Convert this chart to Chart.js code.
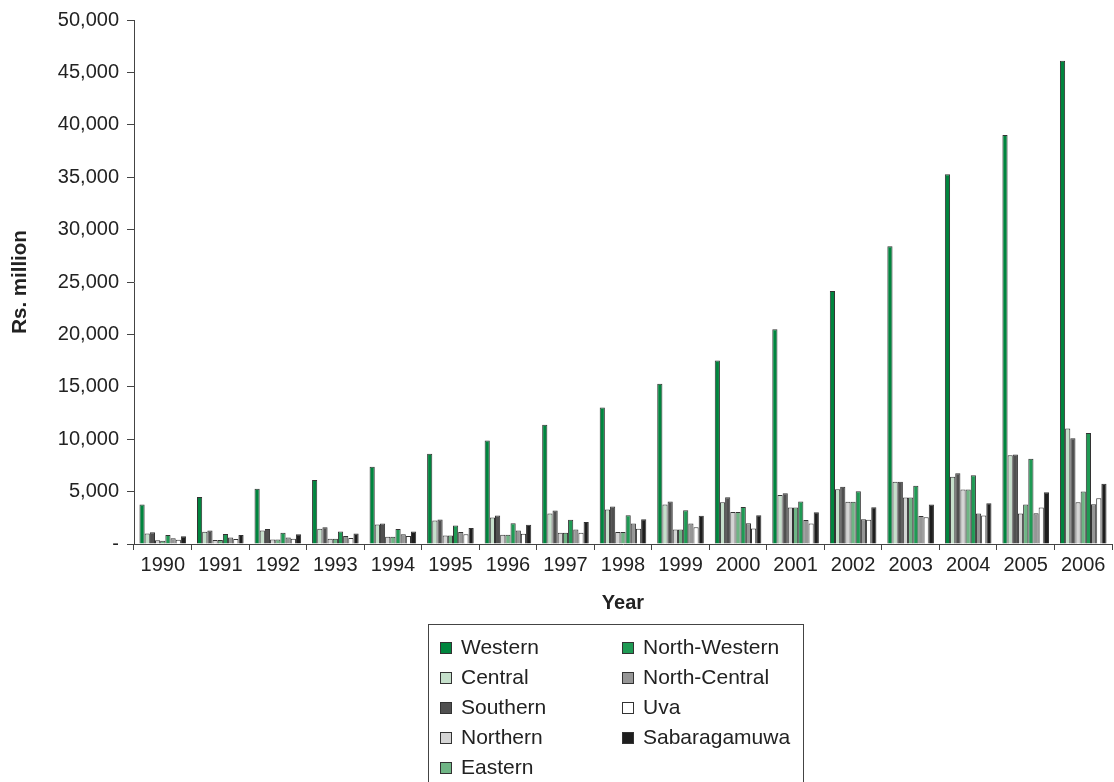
<!DOCTYPE html>
<html>
<head>
<meta charset="utf-8">
<script src="https://cdn.jsdelivr.net/npm/chart.js@4.4.1/dist/chart.umd.min.js"></script>
<style>
  html, body { margin: 0; padding: 0; background: #fff; }
  #wrap { position: relative; width: 1114px; height: 782px; overflow: hidden; }
  #legend { position: absolute; left: 428px; top: 624px; width: 376px; height: 170px;
            border: 1px solid #444; box-sizing: border-box; font-family: "Liberation Sans", Arial, sans-serif;
            font-size: 21px; color: #222; }
  .item { position: absolute; height: 30px; line-height: 30px; white-space: nowrap; }
  .sw { position: absolute; top: 10px; left: 0; width: 10px; height: 10px; border: 1px solid #333; }
  .lbl { position: absolute; left: 21px; top: 0; }
</style>
</head>
<body>
<div id="wrap">
  <canvas id="c" width="1114" height="782"></canvas>
  <div id="legend"></div>
</div>
<script>
const years = ["1990","1991","1992","1993","1994","1995","1996","1997","1998","1999","2000","2001","2002","2003","2004","2005","2006"];

const western       = [3770,4490,5280,6100,7370,8600,9870,11390,13030,15300,17520,20490,24130,28400,35290,39020,46110];
const central       = [1010,1170,1300,1450,1870,2250,2530,2910,3290,3760,3990,4680,5220,5950,6420,8480,11010];
const southern      = [1110,1300,1420,1610,1960,2340,2720,3200,3570,4050,4460,4840,5470,5950,6740,8540,10090];
const northern      = [350,380,440,500,700,820,880,1070,1140,1390,3060,3480,4020,4430,5190,2910,3990];
const eastern       = [300,380,440,500,700,820,880,1070,1140,1390,3060,3480,4020,4430,5190,3760,5000];
const northWestern  = [850,950,1070,1200,1420,1770,1990,2310,2750,3230,3540,4050,5030,5570,6550,8130,10600];
const northCentral  = [540,630,630,760,920,1140,1300,1390,1960,1960,1990,2280,2370,2660,2910,2940,3800];
const uva           = [410,470,500,570,760,920,980,1070,1450,1610,1490,1960,2310,2560,2720,3480,4360];
const sabaragamuwa  = [730,850,920,1010,1200,1520,1830,2090,2370,2690,2750,3040,3510,3760,3890,4930,5760];

const seriesNames  = ["Western","Central","Southern","Northern","Eastern","North-Western","North-Central","Uva","Sabaragamuwa"];
const seriesValues = [western,central,southern,northern,eastern,northWestern,northCentral,uva,sabaragamuwa];
const seriesColors = ["#00853e","#c5e0cb","#505050","#d5d5d5","#6fb585","#1f9a54","#969696","#ffffff","#1e1e1e"];

const yTickStep = 5000;
const yMax = 50000;
const xTitle = "Year";
const yTitle = "Rs. million";

const FONT = "'Liberation Sans', Arial, sans-serif";

const datasets = seriesNames.map((n, i) => ({
  label: n,
  data: seriesValues[i],
  backgroundColor: seriesColors[i],
  borderColor: "#333333",
  borderWidth: 1,
  categoryPercentage: 0.81,
  barPercentage: 1.0
}));

new Chart(document.getElementById("c"), {
  type: "bar",
  data: { labels: years, datasets },
  options: {
    responsive: false,
    animation: false,
    events: [],
    layout: { padding: { left: 0, right: 2, top: 17, bottom: 0 } },
    plugins: { legend: { display: false }, tooltip: { enabled: false } },
    scales: {
      x: {
        offset: true,
        grid: { display: true, offset: true, drawOnChartArea: false, drawTicks: true, tickLength: 6, color: "#444" },
        border: { display: true, color: "#444", width: 1 },
        ticks: { color: "#222", font: { family: FONT, size: 20 }, padding: 3, maxRotation: 0, autoSkip: false },
        title: { display: true, text: xTitle, color: "#222", font: { family: FONT, size: 20, weight: "bold" }, padding: { top: 0, bottom: 167 } },
        afterFit(scale) { scale.height = 238; }
      },
      y: {
        min: 0, max: yMax,
        grid: { display: true, drawOnChartArea: false, drawTicks: true, tickLength: 7, color: "#444" },
        border: { display: true, color: "#444", width: 1 },
        ticks: {
          stepSize: yTickStep, color: "#222", padding: 8,
          font: { family: FONT, size: 20 },
          callback: v => v === 0 ? "-" : v.toLocaleString("en-US")
        },
        title: { display: true, text: yTitle, color: "#222", font: { family: FONT, size: 20.5, weight: "bold" }, padding: { top: 8, bottom: 0 } },
        afterFit(scale) { scale.width = 134; }
      }
    }
  }
});

// Legend (two columns, column-major order like the original)
const legend = document.getElementById("legend");
const rows = 5;
seriesNames.forEach((n, i) => {
  const col = Math.floor(i / rows), row = i % rows;
  const it = document.createElement("div");
  it.className = "item";
  it.style.left = (11 + col * 182) + "px";
  it.style.top = (7 + row * 30) + "px";
  const sw = document.createElement("span");
  sw.className = "sw";
  sw.style.background = seriesColors[i];
  const lb = document.createElement("span");
  lb.className = "lbl";
  lb.textContent = n;
  it.appendChild(sw); it.appendChild(lb);
  legend.appendChild(it);
});
</script>
</body>
</html>
